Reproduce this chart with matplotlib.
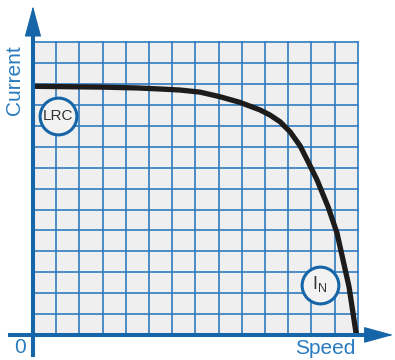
import numpy as np
import matplotlib.pyplot as plt

# grid: 14 x 14 cells
ncols = 14
nrows = 14

# speed-current curve (grid units)
speed = [0.05, 1.5, 3.0, 4.5, 5.5, 6.34, 7.2, 8.06, 8.92, 9.78, 10.22, 10.65,
         11.08, 11.51, 11.85, 12.24, 12.72, 13.1, 13.36, 13.62, 13.79, 13.92, 13.97]
current = [11.9, 11.88, 11.86, 11.82, 11.77, 11.72, 11.62, 11.40, 11.13, 10.77, 10.52, 10.2,
           9.72, 9.05, 8.3, 7.42, 6.12, 4.88, 3.59, 2.30, 1.05, 0.1, 0.0]

axis_c = '#1565a8'
grid_c = '#2f7bc0'
text_c = '#2a7bbf'

fig = plt.figure(figsize=(3.95, 3.6), dpi=100)
ax = fig.add_axes([0, 0, 1, 1])
ax.set_xlim(-1.42, 15.6)
ax.set_ylim(-1.2, 16.03)
ax.axis('off')

ax.add_patch(plt.Rectangle((0, 0), ncols, nrows, facecolor='#efefef', edgecolor='none', zorder=0))
for i in range(1, ncols + 1):
    ax.plot([i, i], [0, nrows], color=grid_c, lw=1.2, zorder=1)
for j in range(1, nrows + 1):
    ax.plot([0, ncols], [j, j], color=grid_c, lw=1.2, zorder=1)

ax.plot(speed, current, color='#1e1b1b', lw=3.8, solid_capstyle='butt',
        solid_joinstyle='round', zorder=3)

# axes with arrows
ax.plot([0, 0], [-0.96, 14.8], color=axis_c, lw=2.9, zorder=4)
ax.plot([-1.0, 14.8], [0, 0], color=axis_c, lw=2.9, zorder=4)
ax.annotate('', xy=(0, 15.74), xytext=(0, 14.0),
            arrowprops=dict(arrowstyle='-|>,head_length=1.0,head_width=0.27', mutation_scale=20,
                            color=axis_c, lw=0.8, shrinkA=0, shrinkB=0), zorder=5)
ax.annotate('', xy=(15.52, 0), xytext=(14.0, 0),
            arrowprops=dict(arrowstyle='-|>,head_length=0.95,head_width=0.26', mutation_scale=20,
                            color=axis_c, lw=0.8, shrinkA=0, shrinkB=0), zorder=5)

ax.text(-0.78, 12.2, 'Current', rotation=90, color=text_c, fontsize=15,
        ha='center', va='center', family='Liberation Sans')
ax.text(12.59, -0.64, 'Speed', color=text_c, fontsize=15, ha='center', va='center',
        family='Liberation Sans')
ax.text(-0.56, -0.6, '0', color=text_c, fontsize=15, ha='center', va='center',
        family='Liberation Sans')

# labels in circles
ax.scatter([1.08, 12.37], [10.5, 2.39], s=700, facecolor='#f2f2f2', edgecolor=axis_c,
           linewidth=2.2, zorder=6)
ax.text(1.08, 10.5, 'LRC', color='#333333', fontsize=11, ha='center', va='center',
        family='Liberation Sans', zorder=7)
ax.text(12.37, 2.45, r'I$_\mathregular{N}$', color='#333333', fontsize=13, ha='center', va='center',
        family='Liberation Sans', zorder=7)

plt.savefig('out.png', dpi=100)
